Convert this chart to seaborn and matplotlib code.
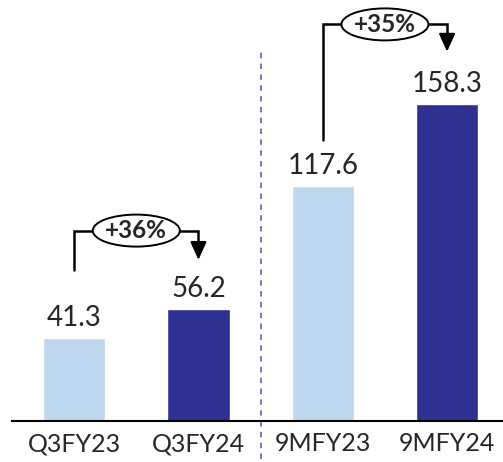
import pandas as pd
import seaborn as sns
import matplotlib.pyplot as plt
from matplotlib.patches import Ellipse

# Chart data
periods = ['Q3FY23', 'Q3FY24', '9MFY23', '9MFY24']
values = [41.3, 56.2, 117.6, 158.3]
growth = ['+36%', '+35%']

light = '#BDD7EE'
dark = '#2E3192'
colors = [light, dark, light, dark]

df = pd.DataFrame({'Period': periods, 'Value': values})

sns.set_style('white')
plt.rcParams['font.family'] = ['Lato', 'DejaVu Sans']

fig = plt.figure(figsize=(5.03, 4.62), dpi=100)
ax = fig.add_axes([12 / 503, 41 / 462, 1 - 12 / 503, 1 - 41 / 462])

sns.barplot(data=df, x='Period', y='Value', hue='Period', palette=colors,
            width=0.5, saturation=1, legend=False, ax=ax)

ax.set_xlim(-0.5, 3.45)
ax.set_ylim(0, 210.5)
ax.set_xlabel('')
ax.set_ylabel('')
ax.set_yticks([])
ax.tick_params(axis='x', length=0, pad=8, labelsize=18)
for s in ['top', 'left', 'right']:
    ax.spines[s].set_visible(False)
ax.spines['bottom'].set_color('black')
ax.spines['bottom'].set_linewidth(1.5)

# value labels
for i, v in enumerate(values):
    ax.text(i, v + 3.5, f'{v:.1f}', ha='center', va='bottom', fontsize=20)

# separator
ax.plot([1.5, 1.5], [-19, 185], ls=(0, (3, 3)), color='#6B6BB8', lw=1.3,
        clip_on=False)

# growth arrows
pairs = [(0, 1, 34, 39, 23), (2, 3, 23, 40, 25)]
for (a, b, start, top, tip), g in zip(pairs, growth):
    y0 = values[a] + start
    yt = values[b] + top
    yh = values[b] + tip
    ax.plot([a, a, b, b], [y0, yt, yt, yh + 6], color='black', lw=1.8,
            solid_joinstyle='miter')
    ax.annotate('', xy=(b, yh), xytext=(b, yh + 8),
                arrowprops=dict(arrowstyle='-|>,head_width=0.5,head_length=1.1',
                                color='black', lw=1.5))
    mid = (a + b) / 2
    ax.add_patch(Ellipse((mid, yt), 0.7, 16, facecolor='white',
                         edgecolor='black', lw=1.4, zorder=3))
    ax.text(mid, yt, g, ha='center', va='center', fontsize=17.5,
            fontweight='bold', zorder=4)

fig.savefig('out.png', dpi=100)
